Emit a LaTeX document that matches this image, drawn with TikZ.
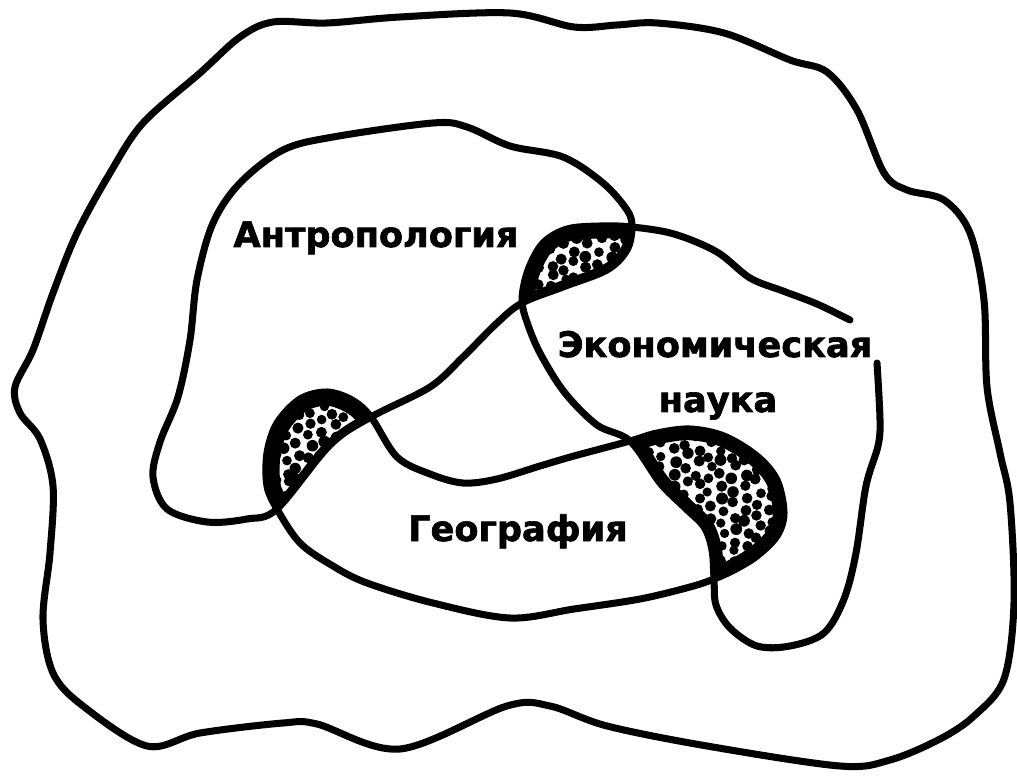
\documentclass[tikz,border=0pt]{standalone}
\usepackage{fontspec}
\newfontfamily\lab[BoldFeatures={FakeBold=1.8}]{DejaVu Sans}
\tikzset{
  curve/.style={draw=black, line width=4pt, line join=round, line cap=round},
  lbl/.style={anchor=base, inner sep=0pt, font=\lab\bfseries\fontsize{20}{20}\selectfont}
}
\def\Outer{plot[smooth cycle, tension=0.55] coordinates {
 (510,13) (574,27) (617,25) (657,23) (724,33) (790,60) (827,72) (857,110) (884,173) (907,190) (944,200) (970,233) (984,300) (987,387) (1000,453) (1010,503) (1014,603) (1004,679) (974,716) (940,739) (890,760) (840,766) (707,746) (607,726) (550,706) (507,706) (400,749) (317,724) (283,723) (200,733) (147,746) (83,706) (53,673) (43,619) (50,553) (53,486) (40,439) (20,413) (15,387) (33,350) (53,293) (77,233) (110,173) (143,123) (200,73) (240,37) (273,22) (327,23) (400,17)}}
\def\Apath{plot[smooth cycle, tension=0.55] coordinates {
 (632,227) (627,250) (607,270) (563,287) (522,303) (497,323) (463,357) (430,387) (371,417) (330,445) (277,509) (247,519) (207,522) (167,509) (153,477) (160,442) (178,397) (190,340) (197,280) (213,223) (240,183) (283,150) (333,137) (433,123) (467,127) (510,146) (563,157) (603,183) (627,210)}}
\def\Gpath{plot[smooth cycle, tension=0.55] coordinates {
 (371,417) (397,457) (430,474) (463,483) (497,479) (540,466) (574,456) (630,441) (657,433) (690,429) (724,436) (757,456) (777,480) (784,513) (777,536) (757,556) (734,570) (714,579) (690,587) (640,599) (574,609) (510,618) (433,603) (367,583) (333,566) (300,543) (277,509) (267,486) (267,453) (277,423) (300,399) (327,392) (352,400)}}
\def\Eopen{plot[smooth, tension=0.55] coordinates {(850,320) (817,304) (783,291) (750,278) (717,252) (674,234) (632,227) (600,226) (567,229) (543,243) (528,270) (522,300) (528,325) (541,355) (565,393) (597,425) (630,441) (660,483) (684,507) (704,527) (712,550) (714,579) (716,605) (730,628) (757,646) (790,646) (824,633) (844,599) (856,553) (866,486) (878,446) (880,420) (877,363)}}
\def\Eclosed{plot[smooth cycle, tension=0.55] coordinates {(850,320) (817,304) (783,291) (750,278) (717,252) (674,234) (632,227) (600,226) (567,229) (543,243) (528,270) (522,300) (528,325) (541,355) (565,393) (597,425) (630,441) (660,483) (684,507) (704,527) (712,550) (714,579) (716,605) (730,628) (757,646) (790,646) (824,633) (844,599) (856,553) (866,486) (878,446) (880,420) (877,363)}}
\newcommand\mystip[4]{%
  \pgfmathtruncatemacro\nx{(#3-#1)/12}%
  \pgfmathtruncatemacro\ny{(#4-#2)/12}%
  \foreach \i in {0,...,\nx}{\foreach \j in {0,...,\ny}{%
    \pgfmathsetmacro\px{#1+\i*12+3*rand}%
    \pgfmathsetmacro\py{#2+\j*12+3*rand+mod(\i,2)*6}%
    \pgfmathsetmacro\pr{4.6+1.4*rnd}%
    \fill[black] (\px,\py) circle[radius=\pr*0.02cm];
  }}}
\begin{document}
\begin{tikzpicture}[x=0.02cm, y=-0.02cm]
\pgfmathsetseed{11}
\fill[white] (0,0) rectangle (1017,776);
\useasboundingbox (0,0) rectangle (1017,776);
% left lens: anthropology & geography
\begin{scope}
  \clip \Apath; \clip \Gpath;
  \mystip{262}{388}{380}{515}
  \draw[line width=0.55cm] \Gpath;
  \draw[line width=0.22cm] \Apath;
\end{scope}
% top lens: anthropology & economics
\begin{scope}
  \clip \Eclosed; \clip \Apath;
  \mystip{516}{222}{640}{310}
  \draw[line width=0.5cm] \Eclosed;
  \draw[line width=0.26cm] \Apath;
\end{scope}
% right lens: geography & economics
\begin{scope}
  \clip \Eclosed; \clip \Gpath;
  \mystip{626}{426}{790}{585}
  \draw[line width=0.45cm] \Gpath;
  \draw[line width=0.4cm] \Eclosed;
\end{scope}
\path[curve] \Outer;
\path[curve] \Apath;
\path[curve] \Gpath;
\path[curve] \Eopen;
\node[lbl] (anthro) at (376,247) {Антропология};
\node[lbl] (econ) at (715,357) {Экономическая};
\node[lbl] (nauka) at (718,412) {наука};
\node[lbl] (geo) at (518,541) {География};
\end{tikzpicture}
\end{document}
